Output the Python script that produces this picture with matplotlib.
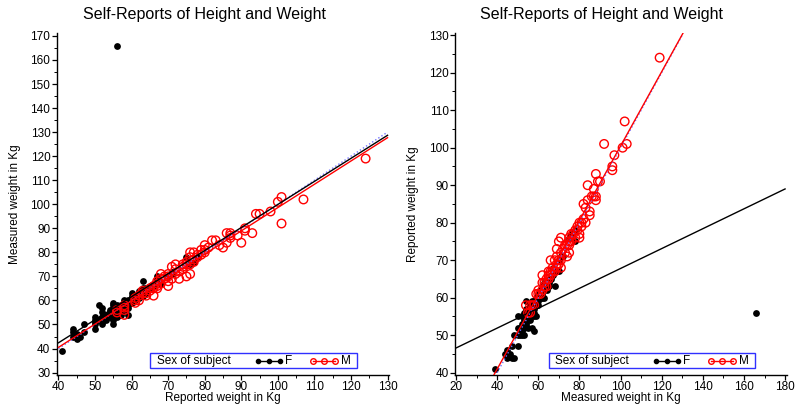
import matplotlib
matplotlib.use("Agg")
import matplotlib.pyplot as plt
from matplotlib.ticker import MultipleLocator
from matplotlib.patches import Rectangle
import numpy as np

plt.rcParams['font.family'] = ['Liberation Sans', 'DejaVu Sans']

# Davis self-report data: (measured, reported) weights in kg
f_measured = [39, 44, 45, 46, 47, 48, 47, 45, 50, 48, 50, 51, 52, 53, 50, 51, 52, 53,
              52, 53, 54, 55, 53, 54, 55, 56, 52, 53, 54, 55, 56, 57, 58, 59, 50,
              53, 54, 55, 56, 57, 58, 55, 56, 57, 54, 58, 56, 57, 58, 59, 60, 57,
              58, 59, 60, 54, 61, 60, 59, 62, 58, 57, 60, 61, 62, 61, 62, 63, 62,
              63, 64, 63, 64, 65, 68, 63, 64, 65, 66, 65, 67, 66, 68, 69, 67, 70,
              70, 71, 72, 75, 76, 78, 78, 166]
f_reported = [41, 45, 44, 45, 44, 44, 47, 46, 47, 50, 50, 50, 50, 50, 52, 52, 51, 52,
              53, 53, 53, 52, 54, 54, 54, 54, 55, 55, 55, 55, 55, 55, 55, 55, 55,
              56, 56, 56, 56, 56, 56, 57, 57, 57, 57, 57, 58, 58, 58, 58, 58, 59,
              59, 59, 59, 59, 60, 60, 60, 60, 51, 52, 61, 61, 61, 62, 62, 62, 63,
              63, 62, 60, 63, 63, 63, 64, 64, 64, 65, 65, 66, 66, 67, 67, 68, 67,
              70, 71, 71, 76, 77, 75, 78, 56]

m_measured = [119, 102, 101, 103, 92, 97, 96, 96, 90, 88, 87, 88, 87, 84, 88, 84, 86,
              83, 81, 85, 85, 82, 83, 80, 79, 80, 78, 78, 76, 75, 75, 71, 70, 75,
              73, 69, 75, 73, 74, 71, 69, 70, 69, 71, 69, 66, 68, 68, 66, 66, 65,
              65, 62, 62, 64, 63, 61, 59, 57, 56, 54, 55, 80, 81, 82, 79, 77, 76,
              74, 72, 70, 67, 64, 63, 60, 58, 56, 60, 62, 65, 67, 71, 89]
m_reported = [124, 107, 100, 101, 101, 98, 94, 95, 91, 93, 89, 87, 87, 90, 86, 86, 87,
              80, 79, 82, 83, 85, 84, 77, 79, 76, 76, 78, 75, 75, 76, 76, 75, 74,
              74, 73, 72, 72, 71, 70, 71, 69, 69, 68, 68, 70, 70, 67, 67, 66, 66,
              65, 66, 64, 63, 63, 61, 61, 58, 58, 58, 56, 80, 80, 81, 78, 77, 77,
              74, 73, 70, 68, 65, 64, 62, 58, 56, 61, 62, 67, 67, 72, 91]

# fitted lines (slope, intercept) as drawn on each panel
left_f_fit = (0.9587, 4.05)
left_m_fit = (0.9687, 1.75)
right_f_fit = (0.265, 41.3)
right_m_fit = (0.991, 1.35)

title = "Self-Reports of Height and Weight"

fig = plt.figure(figsize=(7.97, 4.05), dpi=100)
ax1 = fig.add_axes([0.0711, 0.0741, 0.417, 0.8437])
ax2 = fig.add_axes([0.5709, 0.0741, 0.4162, 0.8437])


def style_axes(ax):
    for s in ['top', 'right']:
        ax.spines[s].set_visible(False)
    for s in ['left', 'bottom']:
        ax.spines[s].set_linewidth(1.0)
    ax.tick_params(which='major', direction='out', length=3.5, width=0.9,
                   labelsize=8.5, pad=1)
    ax.tick_params(which='minor', direction='out', length=2, width=0.7)


def draw_key(ax):
    ax.add_patch(Rectangle((0.282, 0.0205), 0.623, 0.044, transform=ax.transAxes,
                           fill=False, edgecolor='#3030ff', lw=1.0, clip_on=False,
                           zorder=5))
    yc = 0.0424
    ax.text(0.302, yc, "Sex of subject", transform=ax.transAxes, fontsize=8.5,
            va='center', ha='left', zorder=6)
    ax.plot([0.606, 0.639, 0.672], [yc] * 3, transform=ax.transAxes, color='black',
            lw=1.0, marker='o', markersize=3, clip_on=False, zorder=6)
    ax.text(0.688, yc, "F", transform=ax.transAxes, fontsize=8.5, va='center',
            ha='left', zorder=6)
    ax.plot([0.771, 0.804, 0.837], [yc] * 3, transform=ax.transAxes, color='red',
            lw=1.0, marker='o', markersize=4, markerfacecolor='none',
            markeredgewidth=1.0, clip_on=False, zorder=6)
    ax.text(0.856, yc, "M", transform=ax.transAxes, fontsize=8.5, va='center',
            ha='left', zorder=6)


# left: measured vs reported
ax1.scatter(f_reported, f_measured, s=24, color='black', zorder=3, linewidths=0)
ax1.scatter(m_reported, m_measured, s=38, facecolors='none', edgecolors='red',
            linewidths=1.0, zorder=3)
xs = np.array([40, 130])
ax1.plot(xs, xs, color='#7070ff', lw=1.0, ls=':', zorder=4)
ax1.plot(xs, left_f_fit[0] * xs + left_f_fit[1], color='black', lw=1.0, zorder=4)
ax1.plot(xs, left_m_fit[0] * xs + left_m_fit[1], color='red', lw=1.0, zorder=4)
ax1.set_xlim(39.5, 130.4)
ax1.set_ylim(29, 171.1)
ax1.xaxis.set_major_locator(MultipleLocator(10))
ax1.xaxis.set_minor_locator(MultipleLocator(5))
ax1.yaxis.set_major_locator(MultipleLocator(10))
ax1.yaxis.set_minor_locator(MultipleLocator(5))
style_axes(ax1)
ax1.set_xlabel("Reported weight in Kg", fontsize=8.5)
ax1.set_ylabel("Measured weight in Kg", fontsize=8.5)
ax1.xaxis.set_label_coords(0.5, -0.051)
ax1.yaxis.set_label_coords(-0.108, 0.5)
draw_key(ax1)

# right: reported vs measured
ax2.scatter(f_measured, f_reported, s=24, color='black', zorder=3, linewidths=0)
ax2.scatter(m_measured, m_reported, s=38, facecolors='none', edgecolors='red',
            linewidths=1.0, zorder=3)
xs2 = np.array([20, 180])
ax2.plot(xs, xs, color='#7070ff', lw=1.0, ls=':', zorder=4)
ax2.plot(xs2, right_f_fit[0] * xs2 + right_f_fit[1], color='black', lw=1.0, zorder=4)
ax2.plot(xs2, right_m_fit[0] * xs2 + right_m_fit[1], color='red', lw=1.0, zorder=4)
ax2.set_xlim(19.5, 180.8)
ax2.set_ylim(39.4, 130.5)
ax2.xaxis.set_major_locator(MultipleLocator(20))
ax2.xaxis.set_minor_locator(MultipleLocator(10))
ax2.yaxis.set_major_locator(MultipleLocator(10))
ax2.yaxis.set_minor_locator(MultipleLocator(5))
style_axes(ax2)
ax2.set_xlabel("Measured weight in Kg", fontsize=8.5)
ax2.set_ylabel("Reported weight in Kg", fontsize=8.5)
ax2.xaxis.set_label_coords(0.5, -0.051)
ax2.yaxis.set_label_coords(-0.108, 0.5)
draw_key(ax2)

fig.text(0.256, 0.963, title, ha='center', va='center', fontsize=11.5)
fig.text(0.755, 0.963, title, ha='center', va='center', fontsize=11.5)

fig.savefig("out.png", dpi=100)
